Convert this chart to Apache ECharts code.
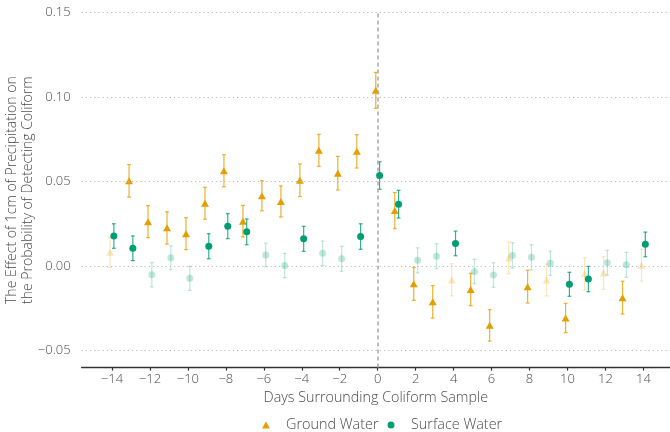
<!DOCTYPE html>
<html>
<head>
<meta charset="utf-8">
<script src="https://cdn.jsdelivr.net/npm/echarts@6/dist/echarts.min.js"></script>
<style>
html,body{margin:0;padding:0;background:#fff;}
#chart{width:670px;height:432px;}
</style>
</head>
<body>
<div id="chart"></div>
<script>
const days = [-14,-13,-12,-11,-10,-9,-8,-7,-6,-5,-4,-3,-2,-1,0,1,2,3,4,5,6,7,8,9,10,11,12,13,14];

const groundEst = [0.0082,0.0505,0.0263,0.0227,0.0192,0.0372,0.0565,0.0266,0.0417,0.0383,0.0508,0.0686,0.0550,0.0680,0.1041,0.0330,-0.0104,-0.0211,-0.0081,-0.0138,-0.0350,0.0049,-0.0121,-0.0082,-0.0307,-0.0045,-0.0040,-0.0186,0.0006];
const groundLo  = [-0.0007,0.0409,0.0169,0.0131,0.0098,0.0278,0.0470,0.0173,0.0328,0.0291,0.0412,0.0591,0.0451,0.0581,0.0934,0.0222,-0.0202,-0.0307,-0.0176,-0.0234,-0.0443,-0.0046,-0.0218,-0.0176,-0.0393,-0.0141,-0.0137,-0.0283,-0.0088];
const groundHi  = [0.0171,0.0601,0.0358,0.0322,0.0287,0.0467,0.0660,0.0360,0.0506,0.0475,0.0605,0.0780,0.0650,0.0778,0.1147,0.0436,-0.0007,-0.0115,0.0015,-0.0042,-0.0257,0.0143,-0.0024,0.0013,-0.0220,0.0050,0.0056,-0.0089,0.0100];
const groundSig = [0,1,1,1,1,1,1,1,1,1,1,1,1,1,1,1,1,1,0,1,1,0,1,0,1,0,0,1,0];

const surfaceEst = [0.0179,0.0106,-0.0051,0.0050,-0.0072,0.0118,0.0237,0.0204,0.0066,0.0004,0.0162,0.0076,0.0044,0.0176,0.0537,0.0367,0.0035,0.0059,0.0135,-0.0031,-0.0052,0.0064,0.0053,0.0018,-0.0107,-0.0076,0.0021,0.0008,0.0130];
const surfaceLo  = [0.0106,0.0033,-0.0123,-0.0021,-0.0143,0.0044,0.0163,0.0127,-0.0003,-0.0068,0.0088,0.0003,-0.0030,0.0100,0.0455,0.0285,-0.0040,-0.0015,0.0062,-0.0104,-0.0125,-0.0011,-0.0022,-0.0054,-0.0178,-0.0151,-0.0052,-0.0066,0.0056];
const surfaceHi  = [0.0251,0.0179,0.0021,0.0121,-0.0001,0.0192,0.0311,0.0279,0.0136,0.0076,0.0236,0.0149,0.0118,0.0251,0.0618,0.0449,0.0109,0.0133,0.0208,0.0041,0.0021,0.0139,0.0127,0.0090,-0.0036,-0.0001,0.0094,0.0082,0.0202];
const surfaceSig = [1,1,0,0,0,1,1,1,0,0,1,0,0,1,1,1,0,0,1,0,0,0,0,0,1,1,0,0,1];

const xTicks = [-14,-12,-10,-8,-6,-4,-2,0,2,4,6,8,10,12,14];
const yTicks = [-0.05,0.00,0.05,0.10,0.15];

const GROUND = '#E69F00';
const SURFACE = '#009E73';
const FADED = 0.25;
const DODGE = 0.1;

function fmtNum(v, digits){
  const s = Math.abs(v).toFixed(digits);
  return (v < -1e-9 ? '\u2212' : '') + s;
}
function rgba(hex, a){
  const r = parseInt(hex.slice(1,3),16), g = parseInt(hex.slice(3,5),16), b = parseInt(hex.slice(5,7),16);
  return 'rgba(' + r + ',' + g + ',' + b + ',' + a + ')';
}

function errData(lo, hi, sig, off){
  return days.map((d,i) => [d + off, lo[i], hi[i], sig[i]]);
}
function ptData(est, sig, off){
  return days.map((d,i) => ({value:[d + off, est[i]], itemStyle:{opacity: sig[i] ? 1 : FADED}}));
}

function errRender(color){
  return function(params, api){
    const x = api.value(0), lo = api.value(1), hi = api.value(2), sig = api.value(3);
    const pLo = api.coord([x, lo]);
    const pHi = api.coord([x, hi]);
    const hw = api.size([0.1, 0])[0];
    const stroke = rgba(color, sig ? 0.8 : FADED);
    const style = {stroke: stroke, lineWidth: 1.2, fill: null};
    return {
      type: 'group',
      children: [
        {type:'line', shape:{x1:pLo[0], y1:pLo[1], x2:pHi[0], y2:pHi[1]}, style: style},
        {type:'line', shape:{x1:pHi[0]-hw, y1:pHi[1], x2:pHi[0]+hw, y2:pHi[1]}, style: style},
        {type:'line', shape:{x1:pLo[0]-hw, y1:pLo[1], x2:pLo[0]+hw, y2:pLo[1]}, style: style}
      ]
    };
  };
}

const chart = echarts.init(document.getElementById('chart'), null, {renderer:'canvas'});
const textColor = '#4a4a4a';
const fontFamily = '"Open Sans", Lato, sans-serif';
const fw = 300;

chart.setOption({
  animation: false,
  backgroundColor: '#ffffff',
  textStyle: {fontFamily: fontFamily},
  grid: {left: 81.6, right: 0, top: 12.7, bottom: 64.4, containLabel: false, outerBoundsMode: 'none'},
  legend: {
    data: [
      {name: 'Ground Water', icon: 'triangle', itemStyle: {color: GROUND}},
      {name: 'Surface Water', icon: 'circle', itemStyle: {color: SURFACE}}
    ],
    left: 257, top: 413,
    itemWidth: 8, itemHeight: 7, itemGap: 9,
    textStyle: {color: textColor, fontSize: 14.4, fontWeight: fw, fontFamily: fontFamily, padding: [0,0,0,11]}
  },
  xAxis: {
    type: 'value',
    min: -15.6, max: 15.4,
    name: 'Days Surrounding Coliform Sample',
    nameLocation: 'middle', nameGap: 23, nameMoveOverlap: false,
    nameTextStyle: {color: textColor, fontSize: 14.3, fontWeight: fw, fontFamily: fontFamily},
    axisLine: {show: true, onZero: false, lineStyle: {color: '#333333', width: 1.3}},
    axisTick: {show: true, customValues: xTicks, length: 3, lineStyle: {color: '#333333', width: 1.2}},
    axisLabel: {show: true, customValues: xTicks, color: textColor, fontSize: 13, fontWeight: fw, margin: 5,
      formatter: v => fmtNum(v, 0)},
    splitLine: {show: false}
  },
  yAxis: {
    type: 'value',
    min: -0.06, max: 0.15,
    name: 'The Effect of 1cm of Precipitation on\nthe Probability of Detecting Coliform',
    nameLocation: 'middle', nameGap: 45, nameMoveOverlap: false,
    nameTextStyle: {color: textColor, fontSize: 14, lineHeight: 16.5, fontWeight: fw, fontFamily: fontFamily},
    axisLine: {show: false},
    axisTick: {show: false, customValues: yTicks},
    axisLabel: {show: true, customValues: yTicks, color: textColor, fontSize: 13, fontWeight: fw, margin: 11,
      formatter: v => fmtNum(v, 2)},
    splitLine: {show: false}
  },
  series: [
    {
      type: 'line', name: 'gridlines', data: [], silent: true, z: 0,
      markLine: {
        silent: true, symbol: 'none', animation: false,
        label: {show: false},
        data: yTicks.map(v => ({yAxis: v, lineStyle: {type: [1.2, 3], color: '#bdbdbd', width: 1.2}}))
          .concat([{xAxis: 0, lineStyle: {type: [4, 3], color: '#a9a9a9', width: 1.5}}])
      }
    },
    {
      type: 'custom', name: 'Ground Water', renderItem: errRender(GROUND),
      data: errData(groundLo, groundHi, groundSig, -DODGE), z: 2, silent: true,
      encode: {x: 0, y: [1, 2]}
    },
    {
      type: 'scatter', name: 'Ground Water', symbol: 'triangle', symbolSize: [8, 7],
      itemStyle: {color: GROUND}, data: ptData(groundEst, groundSig, -DODGE), z: 3, silent: true
    },
    {
      type: 'custom', name: 'Surface Water', renderItem: errRender(SURFACE),
      data: errData(surfaceLo, surfaceHi, surfaceSig, DODGE), z: 4, silent: true,
      encode: {x: 0, y: [1, 2]}
    },
    {
      type: 'scatter', name: 'Surface Water', symbol: 'circle', symbolSize: 7,
      itemStyle: {color: SURFACE}, data: ptData(surfaceEst, surfaceSig, DODGE), z: 5, silent: true
    }
  ]
});
</script>
</body>
</html>
